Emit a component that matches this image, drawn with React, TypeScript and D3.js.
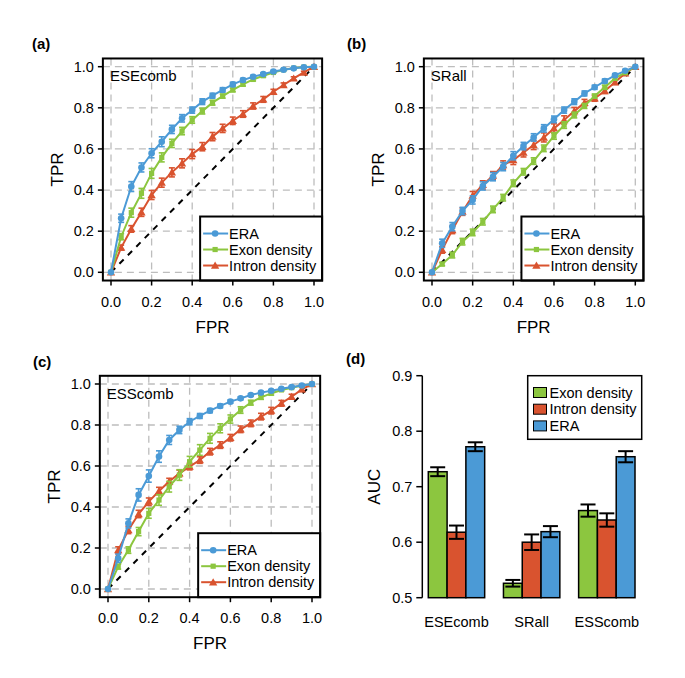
import React from 'react';
import * as d3 from 'd3';

// ROC points, one every 0.05 of FPR
const fpr = [0, 0.05, 0.1, 0.15, 0.2, 0.25, 0.3, 0.35, 0.4, 0.45, 0.5, 0.55, 0.6, 0.65, 0.7, 0.75, 0.8, 0.85, 0.9, 0.95, 1];

const eseEra = [0, 0.263, 0.417, 0.51, 0.579, 0.635, 0.695, 0.749, 0.789, 0.83, 0.859, 0.887, 0.914, 0.935, 0.951, 0.964, 0.977, 0.985, 0.992, 0.997, 1];
const eseEraErr = [0, 0.02, 0.024, 0.022, 0.022, 0.024, 0.02, 0.018, 0.015, 0.014, 0.012, 0.011, 0.01, 0.008, 0.007, 0.006, 0.005, 0.004, 0.003, 0.002, 0];
const eseExon = [0, 0.173, 0.29, 0.384, 0.481, 0.559, 0.627, 0.687, 0.741, 0.784, 0.825, 0.857, 0.887, 0.914, 0.938, 0.956, 0.972, 0.985, 0.993, 0.998, 1];
const eseExonErr = [0, 0.015, 0.022, 0.024, 0.024, 0.022, 0.02, 0.018, 0.016, 0.014, 0.012, 0.01, 0.009, 0.008, 0.007, 0.006, 0.004, 0.003, 0.002, 0.001, 0];
const eseIntron = [0, 0.12, 0.211, 0.292, 0.376, 0.436, 0.486, 0.53, 0.575, 0.611, 0.66, 0.7, 0.737, 0.77, 0.809, 0.841, 0.878, 0.911, 0.943, 0.972, 1];
const eseIntronErr = [0, 0.012, 0.016, 0.02, 0.022, 0.022, 0.022, 0.022, 0.022, 0.02, 0.02, 0.02, 0.018, 0.016, 0.015, 0.014, 0.012, 0.01, 0.008, 0.006, 0];

const srEra = [0, 0.141, 0.222, 0.298, 0.352, 0.42, 0.465, 0.514, 0.567, 0.614, 0.656, 0.7, 0.744, 0.789, 0.83, 0.87, 0.9, 0.93, 0.958, 0.98, 1];
const srEraErr = [0, 0.02, 0.02, 0.018, 0.02, 0.02, 0.02, 0.02, 0.02, 0.018, 0.018, 0.018, 0.016, 0.015, 0.014, 0.012, 0.01, 0.01, 0.008, 0.006, 0];
const srExon = [0, 0.04, 0.084, 0.149, 0.194, 0.246, 0.306, 0.363, 0.433, 0.489, 0.541, 0.603, 0.663, 0.716, 0.765, 0.809, 0.857, 0.9, 0.943, 0.971, 1];
const srExonErr = [0, 0.008, 0.014, 0.016, 0.016, 0.016, 0.016, 0.016, 0.016, 0.016, 0.016, 0.016, 0.016, 0.016, 0.014, 0.012, 0.01, 0.01, 0.008, 0.006, 0];
const srIntron = [0, 0.109, 0.206, 0.295, 0.373, 0.425, 0.47, 0.522, 0.546, 0.583, 0.619, 0.656, 0.7, 0.741, 0.784, 0.825, 0.846, 0.882, 0.924, 0.968, 1];
const srIntronErr = [0, 0.016, 0.018, 0.018, 0.02, 0.02, 0.02, 0.02, 0.022, 0.022, 0.022, 0.022, 0.022, 0.02, 0.018, 0.016, 0.014, 0.012, 0.01, 0.008, 0];

const essEra = [0, 0.15, 0.32, 0.459, 0.551, 0.646, 0.727, 0.776, 0.816, 0.844, 0.87, 0.893, 0.914, 0.93, 0.946, 0.958, 0.967, 0.977, 0.985, 0.993, 1];
const essEraErr = [0, 0.02, 0.022, 0.03, 0.03, 0.028, 0.022, 0.018, 0.015, 0.012, 0.01, 0.009, 0.008, 0.007, 0.006, 0.005, 0.004, 0.003, 0.003, 0.002, 0];
const essExon = [0, 0.109, 0.19, 0.28, 0.369, 0.434, 0.499, 0.556, 0.621, 0.678, 0.735, 0.784, 0.829, 0.873, 0.909, 0.935, 0.954, 0.971, 0.982, 0.992, 1];
const essExonErr = [0, 0.012, 0.016, 0.02, 0.024, 0.026, 0.026, 0.026, 0.026, 0.026, 0.024, 0.022, 0.02, 0.016, 0.012, 0.01, 0.008, 0.006, 0.004, 0.003, 0];
const essIntron = [0, 0.19, 0.288, 0.366, 0.426, 0.478, 0.524, 0.564, 0.597, 0.629, 0.67, 0.702, 0.738, 0.779, 0.808, 0.841, 0.87, 0.906, 0.938, 0.974, 1];
const essIntronErr = [0, 0.016, 0.018, 0.018, 0.018, 0.018, 0.016, 0.016, 0.016, 0.016, 0.016, 0.016, 0.016, 0.016, 0.016, 0.016, 0.016, 0.014, 0.012, 0.01, 0];

// AUC bars
const aucCategories = ['ESEcomb', 'SRall', 'ESScomb'];
const aucSeries = ['Exon density', 'Intron density', 'ERA'];
const aucExon = [0.727, 0.526, 0.657];
const aucExonErr = [0.008, 0.006, 0.011];
const aucIntron = [0.618, 0.6, 0.64];
const aucIntronErr = [0.012, 0.014, 0.012];
const aucEra = [0.772, 0.619, 0.754];
const aucEraErr = [0.008, 0.01, 0.01];
const aucTicks = [0.5, 0.6, 0.7, 0.8, 0.9];

const rocNames = ['ERA', 'Exon density', 'Intron density'];

const BLUE = '#4b9ad6';
const GREEN = '#8cc63f';
const RED = '#d9532f';
const FONT = '"Liberation Sans", Arial, Helvetica, sans-serif';

const fmt = d3.format('.1f');

const Marker = ({ kind, x, y, color }) => {
    if (kind === 'circle') return <circle cx={x} cy={y} r={3.3} fill={color} />;
    if (kind === 'square') return <rect x={x - 2.6} y={y - 2.6} width={5.2} height={5.2} fill={color} />;
    const tri = d3.symbol(d3.symbolTriangle, 30)();
    return <path d={tri} transform={`translate(${x},${y + 0.8})`} fill={color} />;
};

const RocPanel = ({ tag, tagX, name, x0, x1, y0, y1, series }) => {
    const x = d3.scaleLinear().domain([0, 1]).range([x0, x1]);
    const y = d3.scaleLinear().domain([0, 1]).range([y0, y1]);
    const bl = x(-0.04), br = x(1.04), bt = y(1.04), bb = y(-0.04);
    const ticks = x.ticks(5);
    const line = d3.line().x(d => x(d[0])).y(d => y(d[1]));
    const lw = 122, lh = 64;
    const lx = br - lw, ly = bb - lh;
    // legend order differs from draw order
    const legend = [series[2], series[1], series[0]];

    return (
        <g fontFamily={FONT}>
            <text x={tagX} y={bt - 9} fontSize={15} fontWeight="bold">{tag}</text>
            {ticks.map(t => (
                <g key={t}>
                    <line x1={x(t)} x2={x(t)} y1={bt} y2={bb} stroke="#bdbdbd" strokeWidth={1.3} strokeDasharray="7,5" />
                    <line x1={bl} x2={br} y1={y(t)} y2={y(t)} stroke="#bdbdbd" strokeWidth={1.3} strokeDasharray="7,5" />
                    <line x1={x(t)} x2={x(t)} y1={bb} y2={bb + 5} stroke="#000" strokeWidth={1.5} />
                    <line x1={bl - 5} x2={bl} y1={y(t)} y2={y(t)} stroke="#000" strokeWidth={1.5} />
                    <text x={x(t)} y={bb + 26} textAnchor="middle" fontSize={14.5}>{fmt(t)}</text>
                    <text x={bl - 9} y={y(t)} textAnchor="end" dominantBaseline="central" fontSize={14.5}>{fmt(t)}</text>
                </g>
            ))}
            <line x1={x(0)} y1={y(0)} x2={x(1)} y2={y(1)} stroke="#000" strokeWidth={2} strokeDasharray="6,6" />
            {series.map(s => {
                const pts = fpr.map((f, i) => [f, s.values[i]]);
                return (
                    <g key={s.name}>
                        <path d={line(pts)} fill="none" stroke={s.color} strokeWidth={2} />
                        {pts.map((p, i) => s.err[i] > 0 && (
                            <g key={i} stroke={s.color} strokeWidth={1.6}>
                                <line x1={x(p[0])} x2={x(p[0])} y1={y(p[1] - s.err[i])} y2={y(p[1] + s.err[i])} />
                                <line x1={x(p[0]) - 3} x2={x(p[0]) + 3} y1={y(p[1] - s.err[i])} y2={y(p[1] - s.err[i])} />
                                <line x1={x(p[0]) - 3} x2={x(p[0]) + 3} y1={y(p[1] + s.err[i])} y2={y(p[1] + s.err[i])} />
                            </g>
                        ))}
                        {pts.map((p, i) => <Marker key={'m' + i} kind={s.marker} x={x(p[0])} y={y(p[1])} color={s.color} />)}
                    </g>
                );
            })}
            <rect x={lx} y={ly} width={lw} height={lh} fill="#fff" stroke="#000" strokeWidth={2} />
            {legend.map((s, i) => (
                <g key={s.name}>
                    <line x1={lx + 3} x2={lx + 28} y1={ly + 17 + i * 16} y2={ly + 17 + i * 16} stroke={s.color} strokeWidth={2} />
                    <Marker kind={s.marker} x={lx + 15} y={ly + 17 + i * 16} color={s.color} />
                    <text x={lx + 29} y={ly + 17 + i * 16} dominantBaseline="central" fontSize={14.5}>{s.name}</text>
                </g>
            ))}
            <rect x={bl} y={bt} width={br - bl} height={bb - bt} fill="none" stroke="#000" strokeWidth={2} />
            <text x={bl + 7} y={bt + 23} fontSize={15}>{name}</text>
            <text x={x(0.5)} y={bb + 52} textAnchor="middle" fontSize={17}>FPR</text>
            <text transform={`translate(${bl - 40},${y(0.5)}) rotate(-90)`} textAnchor="middle" fontSize={17}>TPR</text>
        </g>
    );
};

const rocSeries = (era, eraErr, exon, exonErr, intron, intronErr) => [
    { name: rocNames[2], values: intron, err: intronErr, color: RED, marker: 'triangle' },
    { name: rocNames[1], values: exon, err: exonErr, color: GREEN, marker: 'square' },
    { name: rocNames[0], values: era, err: eraErr, color: BLUE, marker: 'circle' },
];

const BarPanel = () => {
    const y = d3.scaleLinear().domain([0.5, 0.9]).range([597.7, 375.7]);
    const xg = d3.scaleBand().domain(aucCategories).range([428.3, 635]).paddingInner(0.25).paddingOuter(0);
    const xs = d3.scaleBand().domain(aucSeries).range([0, xg.bandwidth()]);
    const colors = [GREEN, RED, BLUE];
    const vals = [aucExon, aucIntron, aucEra];
    const errs = [aucExonErr, aucIntronErr, aucEraErr];
    const ax = 422.3;

    return (
        <g fontFamily={FONT}>
            <text x={346} y={364} fontSize={15} fontWeight="bold">(d)</text>
            <line x1={ax} x2={ax} y1={y(0.5)} y2={y(0.9)} stroke="#000" strokeWidth={1.5} />
            {aucTicks.map(t => (
                <g key={t}>
                    <line x1={ax - 6} x2={ax} y1={y(t)} y2={y(t)} stroke="#000" strokeWidth={1.5} />
                    <text x={ax - 10} y={y(t)} textAnchor="end" dominantBaseline="central" fontSize={14.5}>{fmt(t)}</text>
                </g>
            ))}
            <text transform={`translate(380,${y(0.7)}) rotate(-90)`} textAnchor="middle" fontSize={17}>AUC</text>
            {aucCategories.map((c, ci) => (
                <g key={c}>
                    {aucSeries.map((s, si) => {
                        const bx = xg(c) + xs(s);
                        const v = vals[si][ci];
                        const e = errs[si][ci];
                        const cx = bx + xs.bandwidth() / 2;
                        return (
                            <g key={s}>
                                <rect x={bx} y={y(v)} width={xs.bandwidth()} height={y(0.5) - y(v)} fill={colors[si]} stroke="#000" strokeWidth={1.5} />
                                <g stroke="#000" strokeWidth={2}>
                                    <line x1={cx} x2={cx} y1={y(v - e)} y2={y(v + e)} />
                                    <line x1={cx - 7.5} x2={cx + 7.5} y1={y(v - e)} y2={y(v - e)} />
                                    <line x1={cx - 7.5} x2={cx + 7.5} y1={y(v + e)} y2={y(v + e)} />
                                </g>
                            </g>
                        );
                    })}
                    <text x={xg(c) + xg.bandwidth() / 2} y={627} textAnchor="middle" fontSize={14.5}>{c}</text>
                </g>
            ))}
            <rect x={527.7} y={375.7} width={114} height={63.6} fill="#fff" stroke="#000" strokeWidth={1.5} />
            {aucSeries.map((s, i) => (
                <g key={s}>
                    <rect x={533.5} y={387.5 + i * 16.7} width={13} height={10} fill={colors[i]} stroke="#000" strokeWidth={1} />
                    <text x={549.5} y={392.5 + i * 16.7} dominantBaseline="central" fontSize={14.5}>{s}</text>
                </g>
            ))}
        </g>
    );
};

export default function App() {
    return (
        <svg width={685} height={678} style={{ position: 'absolute', left: 0, top: 0, background: '#fff' }}>
            <RocPanel tag="(a)" tagX={32} name="ESEcomb" x0={111} x1={314} y0={272.3} y1={66.7}
                series={rocSeries(eseEra, eseEraErr, eseExon, eseExonErr, eseIntron, eseIntronErr)} />
            <RocPanel tag="(b)" tagX={347} name="SRall" x0={432} x1={635.3} y0={272.3} y1={66.7}
                series={rocSeries(srEra, srEraErr, srExon, srExonErr, srIntron, srIntronErr)} />
            <RocPanel tag="(c)" tagX={33} name="ESScomb" x0={108} x1={312} y0={589} y1={384}
                series={rocSeries(essEra, essEraErr, essExon, essExonErr, essIntron, essIntronErr)} />
            <BarPanel />
        </svg>
    );
}
